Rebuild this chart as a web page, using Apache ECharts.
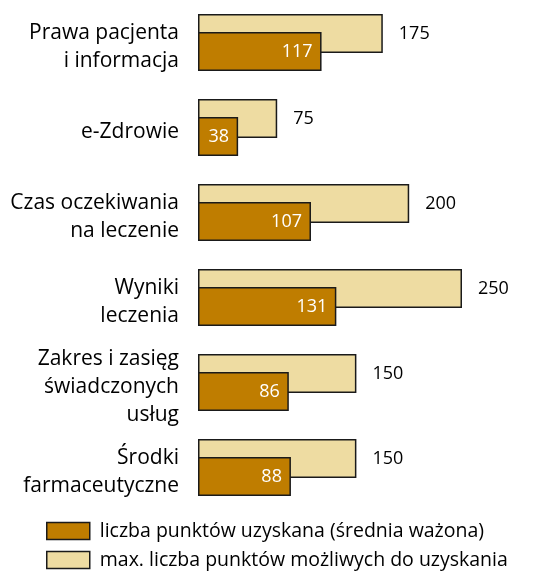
<!DOCTYPE html>
<html>
<head>
<meta charset="utf-8">
<script src="https://cdn.jsdelivr.net/npm/echarts@6/dist/echarts.min.js"></script>
<style>
  html, body { margin: 0; padding: 0; background: #fff; }
  #chart { width: 544px; height: 574px; }
</style>
</head>
<body>
<div id="chart"></div>
<script>
var categories = [
	'Prawa pacjenta\ni informacja',
	'e-Zdrowie',
	'Czas oczekiwania\nna leczenie',
	'Wyniki\nleczenia',
	'Zakres i zasięg\nświadczonych\nusług',
	'Środki\nfarmaceutyczne'
];
var maxPoints = [175, 75, 200, 250, 150, 150];
var gotPoints = [117, 38, 107, 131, 86, 88];
var seriesNames = ['liczba punktów uzyskana (średnia ważona)', 'max. liczba punktów możliwych do uzyskania'];

var font = '"Open Sans", Lato, sans-serif';
var myChart = echarts.init(document.getElementById('chart'));
var option = {
	animation: false,
	textStyle: { fontFamily: font },
	grid: { left: 198, right: 82, top: 0, height: 510, containLabel: false },
	legend: {
		orient: 'vertical',
		left: 46,
		top: 521,
		padding: 0,
		icon: 'rect',
		itemWidth: 43,
		itemHeight: 17,
		itemGap: 9,
		data: [seriesNames[0], seriesNames[1]],
		itemStyle: { borderColor: '#1a1a1a', borderWidth: 1.5 },
		textStyle: { fontFamily: font, fontSize: 19.5, lineHeight: 20, color: '#000', padding: [0, 0, 0, 5] }
	},
	xAxis: {
		type: 'value',
		min: 0,
		max: 250,
		show: false
	},
	yAxis: {
		type: 'category',
		inverse: true,
		data: categories,
		axisLine: { show: false },
		axisTick: { show: false },
		axisLabel: {
			fontFamily: font,
			fontSize: 21,
			color: '#000',
			lineHeight: 28,
			align: 'right',
			margin: 19,
			// thin empty line on top pushes the block a few px down
			formatter: function(v) {
				return '{s| }\n' + v;
			},
			rich: {
				s: { fontSize: 4, lineHeight: 10, height: 10 }
			}
		}
	},
	series: [{
		name: seriesNames[1],
		type: 'bar',
		data: maxPoints,
		barWidth: 39,
		barGap: '-54%',
		z: 2,
		itemStyle: { color: '#EEDCA2', borderColor: '#1a1a1a', borderWidth: 1.5 },
		label: {
			show: true,
			position: 'right',
			distance: 16,
			fontFamily: font,
			fontSize: 18,
			color: '#000'
		}
	}, {
		name: seriesNames[0],
		type: 'bar',
		data: gotPoints,
		barWidth: 39,
		z: 3,
		itemStyle: { color: '#BF7D00', borderColor: '#1a1a1a', borderWidth: 1.5 },
		label: {
			show: true,
			position: 'insideRight',
			distance: 9,
			fontFamily: font,
			fontSize: 18,
			color: '#fff'
		}
	}]
};
myChart.setOption(option);
</script>
</body>
</html>
